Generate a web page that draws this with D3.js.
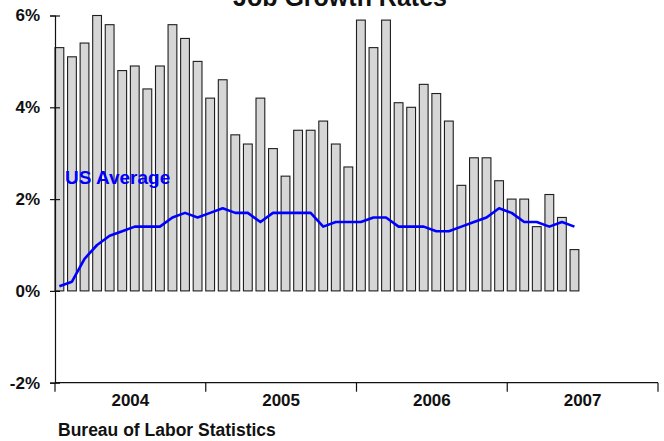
<!DOCTYPE html>
<html>
<head>
<meta charset="utf-8">
<script src="https://cdn.jsdelivr.net/npm/d3@7"></script>
<style>
  html, body { margin: 0; padding: 0; background: #fff; }
  svg { display: block; }
  text { font-family: "Liberation Sans", Arial, sans-serif; font-weight: bold; }
</style>
</head>
<body>
<svg id="chart" width="664" height="441"></svg>
<script>
// ---- Data ----
const years = ["2004", "2005", "2006", "2007"];
// 42 monthly observations: Jan 2004 .. Jun 2007
const months = [];
years.forEach(yr => { for (let m = 1; m <= 12; m++) months.push(yr + "-" + String(m).padStart(2, "0")); });
const growth = [5.3, 5.1, 5.4, 6.0, 5.8, 4.8, 4.9, 4.4, 4.9, 5.8, 5.5, 5.0,
                4.2, 4.6, 3.4, 3.2, 4.2, 3.1, 2.5, 3.5, 3.5, 3.7, 3.2, 2.7,
                5.9, 5.3, 5.9, 4.1, 4.0, 4.5, 4.3, 3.7, 2.3, 2.9, 2.9, 2.4,
                2.0, 2.0, 1.4, 2.1, 1.6, 0.9];
const usAverage = [0.1, 0.2, 0.7, 1.0, 1.2, 1.3, 1.4, 1.4, 1.4, 1.6, 1.7, 1.6,
                   1.7, 1.8, 1.7, 1.7, 1.5, 1.7, 1.7, 1.7, 1.7, 1.4, 1.5, 1.5,
                   1.5, 1.6, 1.6, 1.4, 1.4, 1.4, 1.3, 1.3, 1.4, 1.5, 1.6, 1.8,
                   1.7, 1.5, 1.5, 1.4, 1.5, 1.4];
const yTicks = [-2, 0, 2, 4, 6];
const chartTitle = "Job Growth Rates";
const seriesLabel = "US Average";
const sourceText = "Bureau of Labor Statistics";

// ---- Layout ----
const svg = d3.select("#chart");
const mLeft = 55, mRight = 658, mTop = 15.5, mBottom = 382.7;

const x = d3.scaleBand().domain(months).range([mLeft, mRight])
  .paddingInner(0.3).paddingOuter(0.15).align(0);
const xYear = d3.scaleBand().domain(years).range([mLeft, mRight]).padding(0);
const y = d3.scaleLinear().domain([-2, 6]).range([mBottom, mTop]);

const data = growth.map((v, i) => ({ m: months[i], v, a: usAverage[i] }));

// Bars
svg.append("g").selectAll("rect").data(data).join("rect")
  .attr("x", d => x(d.m))
  .attr("width", x.bandwidth())
  .attr("y", d => y(d.v))
  .attr("height", d => y(0) - y(d.v))
  .attr("fill", "#d6d6d6")
  .attr("stroke", "#1e1e1e")
  .attr("stroke-width", 1.1);

// US average line
const line = d3.line().x(d => x(d.m) + x.bandwidth() / 2).y(d => y(d.a));
svg.append("path").datum(data)
  .attr("d", line)
  .attr("fill", "none")
  .attr("stroke", "#0000ff")
  .attr("stroke-width", 2.6)
  .attr("stroke-linejoin", "round");

// Y axis
const yAxis = svg.append("g").attr("transform", `translate(${mLeft},0)`)
  .call(d3.axisLeft(y).tickValues(yTicks).tickFormat(d => d + "%").tickSizeOuter(0).tickSize(5).tickPadding(10));
yAxis.select(".domain").attr("stroke", "#111").attr("stroke-width", 1.2);
yAxis.selectAll(".tick line").attr("x1", -5).attr("x2", 5).attr("stroke", "#111").attr("stroke-width", 1.2);
yAxis.selectAll(".tick text").attr("font-size", 17).attr("fill", "#111")
  .attr("font-family", "'Liberation Sans', Arial, sans-serif").attr("font-weight", "bold");

// X axis (years)
const xg = svg.append("g");
xg.append("line").attr("x1", mLeft).attr("x2", mRight).attr("y1", mBottom).attr("y2", mBottom)
  .attr("stroke", "#111").attr("stroke-width", 1.2);
const bounds = years.map(yr => xYear(yr)).concat([xYear(years[years.length - 1]) + xYear.bandwidth()]);
xg.selectAll("line.tk").data(bounds).join("line").attr("class", "tk")
  .attr("x1", d => d).attr("x2", d => d)
  .attr("y1", mBottom).attr("y2", mBottom + 9)
  .attr("stroke", "#111").attr("stroke-width", 1.2);
xg.selectAll("text").data(years).join("text")
  .attr("x", d => xYear(d) + xYear.bandwidth() / 2)
  .attr("y", 406)
  .attr("text-anchor", "middle")
  .attr("font-size", 17)
  .attr("fill", "#111")
  .text(d => d);

// Title
svg.append("text").attr("x", 340).attr("y", 6).attr("text-anchor", "middle")
  .attr("font-size", 25).attr("fill", "#111").text(chartTitle);

// Series label
svg.append("text").attr("x", 65).attr("y", 184)
  .attr("font-size", 19).attr("fill", "#0000ff").text(seriesLabel);

// Source
svg.append("text").attr("x", 58).attr("y", 436)
  .attr("font-size", 17.5).attr("fill", "#111").text(sourceText);
</script>
</body>
</html>
